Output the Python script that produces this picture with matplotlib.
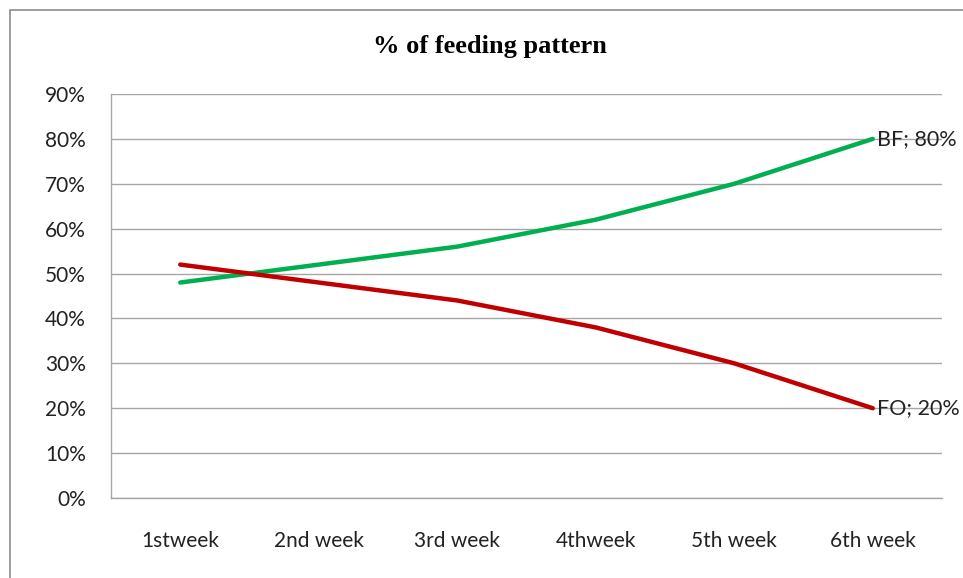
import numpy as np
import matplotlib.pyplot as plt
from matplotlib.patches import Rectangle

weeks = ['1stweek', '2nd week', '3rd week', '4thweek', '5th week', '6th week']
bf = [48, 52, 56, 62, 70, 80]
fo = [52, 48, 44, 38, 30, 20]

plt.rcParams['font.family'] = ['Lato', 'DejaVu Sans']

fig = plt.figure(figsize=(9.63, 5.78), dpi=100)
ax = fig.add_axes([111 / 963, 1 - 498 / 578, (942 - 111) / 963, (498 - 94) / 578])

# outer chart frame
fig.patches.append(Rectangle((10 / 963, -0.01), 1.0, 1 - 10 / 578 + 0.01, transform=fig.transFigure,
                             fill=False, edgecolor='#8c8c8c', linewidth=1.2))

x = np.arange(len(weeks))
ax.plot(x, bf, color='#00B050', linewidth=3.2, solid_capstyle='round')
ax.plot(x, fo, color='#C00000', linewidth=3.2, solid_capstyle='round')

ax.text(x[-1] + 0.03, bf[-1], 'BF; %d%%' % bf[-1], va='center', ha='left', fontsize=15.5, color='#222222')
ax.text(x[-1] + 0.03, fo[-1], 'FO; %d%%' % fo[-1], va='center', ha='left', fontsize=15.5, color='#222222')

ax.set_xlim(-0.5, 5.5)
ax.set_ylim(0, 90)
ax.set_yticks(range(0, 91, 10))
ax.set_yticklabels(['%d%%' % v for v in range(0, 91, 10)])
ax.set_xticks(x)
ax.set_xticklabels(weeks)
ax.tick_params(axis='both', length=0, labelsize=15, colors='#222222')
ax.tick_params(axis='x', pad=24)
ax.tick_params(axis='y', pad=18)

ax.grid(axis='y', color='#a6a6a6', linewidth=1)
ax.set_axisbelow(True)
for s in ['top', 'right']:
    ax.spines[s].set_visible(False)
for s in ['left', 'bottom']:
    ax.spines[s].set_color('#a6a6a6')
    ax.spines[s].set_linewidth(1)

fig.text(490 / 963, 1 - 46 / 578, '% of feeding pattern', ha='center', va='center',
         fontsize=19, fontweight='bold', family='Liberation Serif')

fig.savefig('out.png', dpi=100)
